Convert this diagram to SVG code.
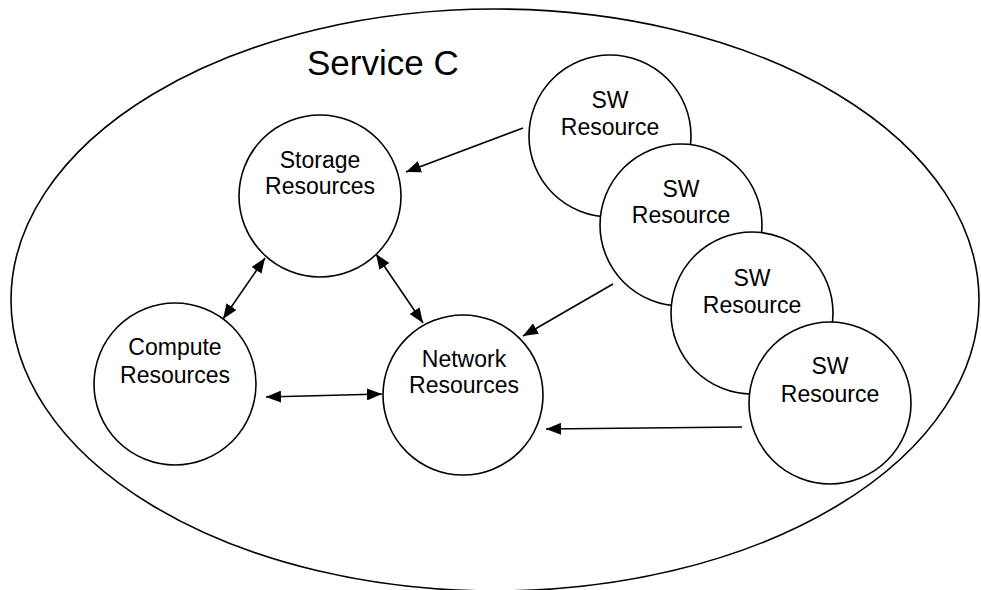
<svg xmlns="http://www.w3.org/2000/svg" width="981" height="590" viewBox="0 0 981 590">
  <style>
    .node { fill: #ffffff; stroke: #000000; stroke-width: 1.6; }
    .lbl { font-family: "Liberation Sans", Arial, sans-serif; font-size: 23px; fill: #000000; text-anchor: middle; }
    .title { font-family: "Liberation Sans", Arial, sans-serif; font-size: 35px; fill: #000000; }
    .conn { stroke: #000000; stroke-width: 1.6; fill: none; }
  </style>
  <defs>
    <marker id="arr" markerUnits="userSpaceOnUse" markerWidth="15" markerHeight="12" refX="15" refY="6" orient="auto-start-reverse">
      <path d="M0,0 L15,6 L0,12 z" fill="#000000"/>
    </marker>
  </defs>
  <rect width="981" height="590" fill="#ffffff"/>
  <g id="service-c">
    <ellipse cx="495" cy="300" rx="484" ry="291" fill="none" stroke="#000000" stroke-width="1.6"/>
    <text class="title" x="307" y="75">Service C</text>
  </g>
  <g id="storage">
    <circle class="node" cx="320" cy="196" r="81"/>
    <text class="lbl" x="320" y="168">Storage</text>
    <text class="lbl" x="320" y="194">Resources</text>
  </g>
  <g id="compute">
    <circle class="node" cx="175" cy="384" r="81"/>
    <text class="lbl" x="175" y="355">Compute</text>
    <text class="lbl" x="175" y="383">Resources</text>
  </g>
  <g id="network">
    <circle class="node" cx="463" cy="395" r="80"/>
    <text class="lbl" x="464" y="367">Network</text>
    <text class="lbl" x="464" y="393">Resources</text>
  </g>
  <g id="sw1">
    <circle class="node" cx="610" cy="136" r="81"/>
    <text class="lbl" x="610" y="108">SW</text>
    <text class="lbl" x="610" y="135">Resource</text>
  </g>
  <g id="sw2">
    <circle class="node" cx="681" cy="225" r="81"/>
    <text class="lbl" x="681" y="197">SW</text>
    <text class="lbl" x="681" y="223">Resource</text>
  </g>
  <g id="sw3">
    <circle class="node" cx="752" cy="313" r="81"/>
    <text class="lbl" x="752" y="286">SW</text>
    <text class="lbl" x="752" y="313">Resource</text>
  </g>
  <g id="sw4">
    <circle class="node" cx="830" cy="403" r="81"/>
    <text class="lbl" x="830" y="374">SW</text>
    <text class="lbl" x="830" y="402">Resource</text>
  </g>
  <g id="connectors">
    <line class="conn" x1="523" y1="128" x2="406" y2="172" marker-end="url(#arr)"/>
    <line class="conn" x1="265" y1="258" x2="223" y2="319" marker-start="url(#arr)" marker-end="url(#arr)"/>
    <line class="conn" x1="376" y1="254" x2="423" y2="323" marker-start="url(#arr)" marker-end="url(#arr)"/>
    <line class="conn" x1="266" y1="397" x2="382" y2="394" marker-start="url(#arr)" marker-end="url(#arr)"/>
    <line class="conn" x1="613" y1="284" x2="523" y2="336" marker-end="url(#arr)"/>
    <line class="conn" x1="742" y1="427" x2="546" y2="429" marker-end="url(#arr)"/>
  </g>
</svg>
